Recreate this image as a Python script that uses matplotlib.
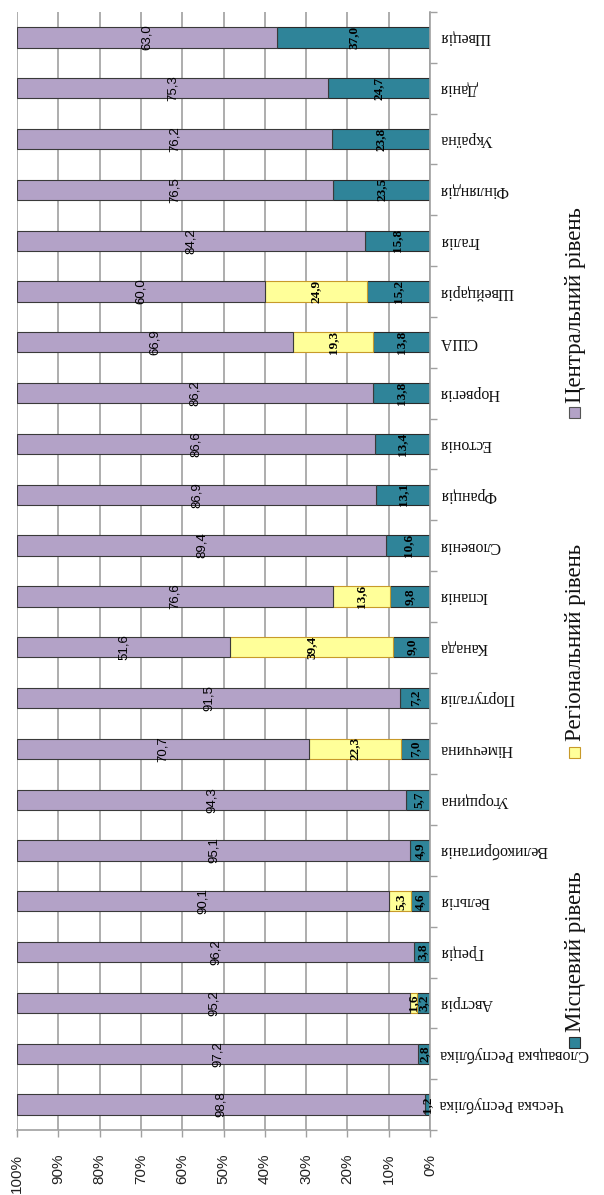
import numpy as np
import matplotlib
matplotlib.use("Agg")
import matplotlib.pyplot as plt
from matplotlib.patches import Rectangle

# Shares of public expenditure by level of government, %
countries = ["Чеська Республіка", "Словацька Республіка", "Австрія", "Греція", "Бельгія",
             "Великобританія", "Угорщина", "Німеччина", "Португалія", "Канада", "Іспанія",
             "Словенія", "Франція", "Естонія", "Норвегія", "США", "Швейцарія", "Італія",
             "Фінляндія", "Україна", "Данія", "Швеція"]
local = [1.2, 2.8, 3.2, 3.8, 4.6, 4.9, 5.7, 7.0, 7.2, 9.0, 9.8,
         10.6, 13.1, 13.4, 13.8, 13.8, 15.2, 15.8, 23.5, 23.8, 24.7, 37.0]
regional = [0, 0, 1.6, 0, 5.3, 0, 0, 22.3, 0, 39.4, 13.6,
            0, 0, 0, 0, 19.3, 24.9, 0, 0, 0, 0, 0]
central = [98.8, 97.2, 95.2, 96.2, 90.1, 95.1, 94.3, 70.7, 91.5, 51.6, 76.6,
           89.4, 86.9, 86.6, 86.2, 66.9, 60.0, 84.2, 76.5, 76.2, 75.3, 63.0]
legend_labels = ["Місцевий рівень", "Регіональний рівень", "Центральний рівень"]

TEAL = "#2F8499"
YELLOW = "#FFFF99"
PURPLE = "#B3A2C7"
GRID = "#A0A0A0"

W, H = 604, 1195


def fx(px):
    return px / W


def fy(py):
    return 1 - py / H


def fmt(v):
    return f"{v:.1f}".replace(".", ",")


loc = np.array(local)
reg = np.array(regional)
cen = np.array(central)
total = loc + reg + cen
# 100% stacked: each bar is scaled to its own total
loc_p = loc / total * 100
reg_p = reg / total * 100
cen_p = cen / total * 100
y = np.arange(len(countries))

fig = plt.figure(figsize=(W / 100, H / 100), dpi=100)
ax = fig.add_axes([fx(17), fy(1130), fx(430) - fx(17), fy(12) - fy(1130)])

h = 0.4
ax.barh(y, loc_p, left=0, height=h, color=TEAL, edgecolor="#2b2b2b", linewidth=0.8, zorder=2)
m = reg > 0
ax.barh(y[m], reg_p[m], left=loc_p[m], height=h, color=YELLOW, edgecolor="#C89A2A",
        linewidth=0.8, zorder=2)
ax.barh(y, cen_p, left=loc_p + reg_p, height=h, color=PURPLE, edgecolor="#3a3a3a",
        linewidth=0.8, zorder=2)

# value labels in the middle of each segment
for i in y:
    ax.text(loc_p[i] / 2, i, fmt(loc[i]), rotation=90, ha="center", va="center",
            fontsize=9.5, fontweight="bold", family="Liberation Serif", color="black", zorder=3)
    if reg[i] > 0:
        ax.text(loc_p[i] + reg_p[i] / 2, i, fmt(reg[i]), rotation=90, ha="center", va="center",
                fontsize=9.5, fontweight="bold", family="Liberation Serif", color="black", zorder=3)
    ax.text(loc_p[i] + reg_p[i] + cen_p[i] / 2, i, fmt(cen[i]), rotation=90, ha="center",
            va="center", fontsize=9.5, family="Liberation Sans", color="black", zorder=3)

ax.set_xlim(100, 0)
ax.set_ylim(-0.5, len(countries) - 0.5)

ax.set_xticks(np.arange(0, 101, 10))
ax.set_xticklabels([f"{v}%" for v in range(0, 101, 10)], rotation=90,
                   fontsize=11, family="Liberation Sans", color="#222222")
ax.xaxis.grid(True, color=GRID, linewidth=1.2, zorder=0)
ax.set_axisbelow(True)
ax.tick_params(axis="x", direction="out", length=5, width=1, color=GRID, pad=12)

ax.yaxis.tick_right()
ax.set_yticks(y)
ax.set_yticklabels(countries, rotation=180, ha="left", va="center",
                   fontsize=11.5, family="Liberation Serif", color="#111111")
ax.set_yticks(np.arange(-0.5, len(countries), 1), minor=True)
ax.tick_params(axis="y", which="major", length=0, pad=7)
ax.tick_params(axis="y", which="minor", direction="out", length=5, width=1, color=GRID)

for side in ["top", "left"]:
    ax.spines[side].set_visible(False)
for side in ["right", "bottom"]:
    ax.spines[side].set_color(GRID)
    ax.spines[side].set_linewidth(1.2)

# legend along the right edge, written bottom to top
legend_colors = [TEAL, YELLOW, PURPLE]
legend_edges = ["#2b2b2b", "#C89A2A", "#555555"]
square_y = [1042, 752, 412]
text_y = [1032, 741, 403]
for lab, col, ec, sy, ty in zip(legend_labels, legend_colors, legend_edges, square_y, text_y):
    fig.patches.append(Rectangle((fx(569), fy(sy + 5.5)), 11 / W, 11 / H,
                                 transform=fig.transFigure, facecolor=col,
                                 edgecolor=ec, linewidth=0.8))
    fig.text(fx(575), fy(ty), lab, rotation=90, ha="center", va="bottom",
             fontsize=16.5, family="Liberation Serif", color="#111111")

fig.savefig("out.png", dpi=100)
